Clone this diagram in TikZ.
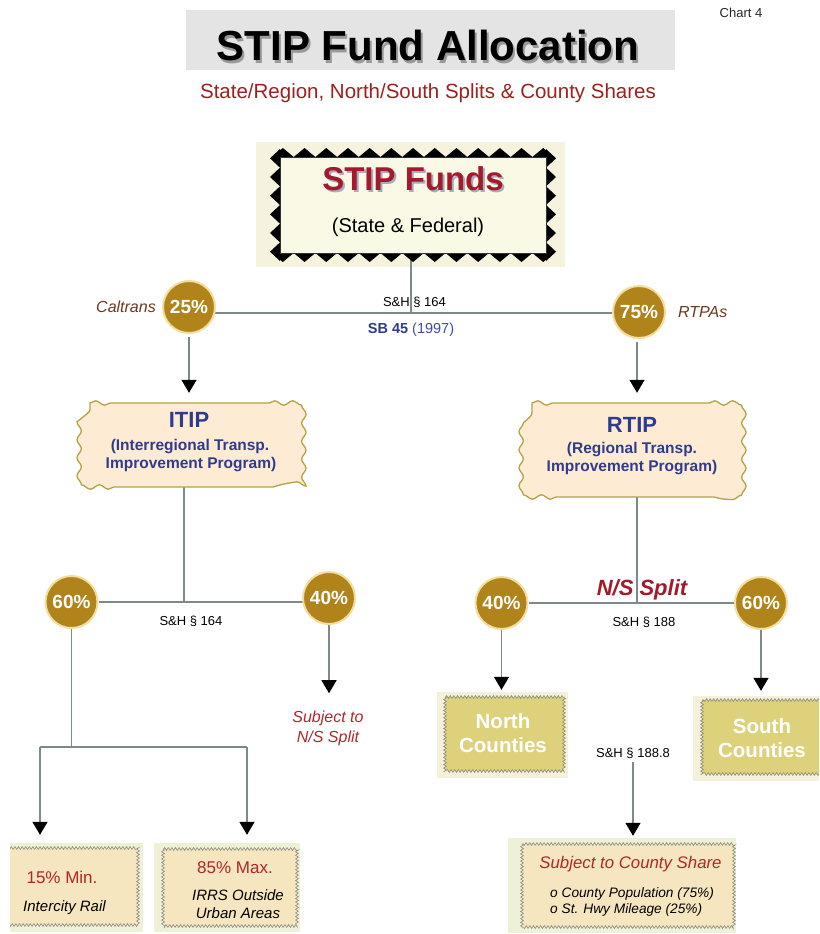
\documentclass[tikz,border=0pt]{standalone}
\usepackage{fontspec}
\setmainfont{Liberation Sans}
\usetikzlibrary{decorations.pathmorphing,arrows.meta}

\definecolor{titlegray}{HTML}{E4E4E4}
\definecolor{subred}{HTML}{9E1F1F}
\definecolor{stipred}{HTML}{A31A2B}
\definecolor{navy}{HTML}{2F3C8E}
\definecolor{navylight}{HTML}{3F4E9E}
\definecolor{brownit}{HTML}{6A3A1E}
\definecolor{gold}{HTML}{B0841A}
\definecolor{goldrim}{HTML}{F2DE9E}
\definecolor{peach}{HTML}{FDEBD4}
\definecolor{olive}{HTML}{B2A446}
\definecolor{khaki}{HTML}{DDD27B}
\definecolor{stipback}{HTML}{F5F3DD}
\definecolor{stipcream}{HTML}{FAF9E6}
\definecolor{paleback}{HTML}{EEF0D8}
\definecolor{northback}{HTML}{F4F0DA}
\definecolor{beige}{HTML}{F6E6BF}
\definecolor{linecol}{HTML}{7E8989}
\definecolor{zzline}{HTML}{8A8A80}
\definecolor{redtxt}{HTML}{B0262A}
\definecolor{shadowblue}{HTML}{A8ACC0}

\newcommand\fsz[2]{\fontsize{#1}{#2}\selectfont}
% text with a soft drop shadow: colour, dx, dy, text
\newcommand\shadowed[4]{\makebox[0pt][l]{\hspace{#2}\raisebox{-#3}{\textcolor{#1}{#4}}}#4}

% scalloped frame: x0 y0 x1 y1
\newcommand\wavyframe[4]{%
  \filldraw[fill=peach, draw=olive, line width=1.3pt,
    decoration={snake, segment length=18pt, amplitude=2.2pt}]
    (#1,#2) decorate{-- (#1+24,#2)} -- (#3-24,#2)
    decorate{-- (#3,#2) -- (#3,#4) -- (#3-24,#4)} -- (#1+24,#4)
    decorate{-- (#1,#4) -- (#1,#2)} -- cycle;}

\pgfdeclarelayer{bg}
\pgfsetlayers{bg,main}

\tikzset{
  pct/.style={circle, fill=gold, draw=goldrim, line width=2pt, minimum size=52pt,
    inner sep=0pt, text=white, font=\bfseries\fsz{19}{22}},
  conn/.style={draw=linecol, line width=1.3pt},
  arr/.style={conn, -{Triangle[width=15pt,length=13pt,color=black]}},
  txt/.style={anchor=base, inner sep=0pt},
  lbl/.style={txt, font=\fsz{13}{15}},
  zz/.style={decorate, decoration={zigzag, segment length=3.6pt, amplitude=1.4pt},
    draw=zzline, line width=0.6pt},
  pane/.style={inner sep=0pt, fill=#1},
}

\begin{document}
\begin{tikzpicture}[x=1pt,y=-1pt]
\useasboundingbox (0,0) rectangle (819,934);

% ---------- heading ----------
\node[pane=titlegray, minimum width=489pt, minimum height=60pt] (titlebox) at (430.5,40) {};
\node[txt, font=\bfseries\fsz{42}{48}] (title) at (428,61)
  {\shadowed{black!40}{2pt}{2pt}{STIP Fund Allocation}};
\node[txt, text=subred, font=\fsz{20.5}{24}] (subtitle) at (428,99) {State/Region, North/South Splits \& County Shares};
\node[txt, text=black!85, font=\fsz{13}{15}] (chart) at (741,18) {Chart 4};

% ---------- STIP Funds ----------
\begin{pgfonlayer}{bg}
  \fill[stipback] (256,142) rectangle (565,267);
\end{pgfonlayer}
\foreach \i in {0,...,12} {
  \fill (272+\i*21.7,157) -- (282.85+\i*21.7,148) -- (293.7+\i*21.7,157) -- cycle;
  \fill (272+\i*21.7,253) -- (282.85+\i*21.7,262) -- (293.7+\i*21.7,253) -- cycle;
}
\foreach \j in {0,...,5} {
  \fill (280,149+\j*18.67) -- (270,158.33+\j*18.67) -- (280,167.67+\j*18.67) -- cycle;
  \fill (546,149+\j*18.67) -- (556,158.33+\j*18.67) -- (546,167.67+\j*18.67) -- cycle;
}
\node[draw=black!80, line width=0.8pt, fill=stipcream, minimum width=266pt,
  minimum height=96pt, inner sep=0pt] (stip) at (413,205) {};
\node[txt, text=stipred, font=\bfseries\fsz{33}{38}] (stiptitle) at (413,190)
  {\shadowed{shadowblue}{2pt}{2pt}{STIP Funds}};
\node[txt, font=\fsz{20}{24}] (stipsub) at (408,232) {(State \& Federal)};

% ---------- first split ----------
\node[pct] (c25) at (189,307) {25\%};
\node[pct] (c75) at (639,312) {75\%};
\node[txt, text=brownit, font=\itshape\fsz{16}{19}, anchor=base east] (caltrans) at (156,312) {Caltrans};
\node[txt, text=brownit, font=\itshape\fsz{16}{19}, anchor=base west] (rtpas) at (678,317) {RTPAs};
\node[lbl] (sh164a) at (414.5,306) {S\&H § 164};
\node[txt, font=\fsz{14.5}{17}] (sb45) at (411,333) {\textcolor{navy}{\bfseries SB 45} \textcolor{navylight}{(1997)}};
\coordinate (jtop) at (411,313);

% ---------- ITIP / RTIP ----------
\wavyframe{90}{403}{293}{487}
\node[inner sep=0pt, minimum width=203pt, minimum height=84pt] (itip) at (191.5,445) {};
\node[txt, text=navy, font=\bfseries\fsz{22}{26}] (itipA) at (189,427) {ITIP};
\node[txt, text=navy, font=\bfseries\fsz{15.5}{18}] (itipB) at (190,450) {(Interregional Transp.};
\node[txt, text=navy, font=\bfseries\fsz{15.5}{18}] (itipC) at (191,468) {Improvement Program)};

\wavyframe{532}{403}{733}{497}
\node[inner sep=0pt, minimum width=201pt, minimum height=94pt] (rtip) at (632.5,450) {};
\node[txt, text=navy, font=\bfseries\fsz{22}{26}] (rtipA) at (632,432) {RTIP};
\node[txt, text=navy, font=\bfseries\fsz{15.5}{18}] (rtipB) at (632,453) {(Regional Transp.};
\node[txt, text=navy, font=\bfseries\fsz{15.5}{18}] (rtipC) at (632,471) {Improvement Program)};

% ---------- ITIP split ----------
\node[pct] (c60a) at (71.5,602) {60\%};
\node[pct] (c40a) at (329,598) {40\%};
\node[lbl] (sh164b) at (191,625) {S\&H § 164};
\coordinate (jl) at (184,602);
\node[txt, text=redtxt, font=\itshape\fsz{16}{19}] (nsA) at (328,722) {Subject to};
\node[txt, text=redtxt, font=\itshape\fsz{16}{19}] (nsB) at (328,742) {N/S Split};
\coordinate (jb) at (71.5,747);
\coordinate (jbl) at (40,747);
\coordinate (jbr) at (247,747);

% intercity rail box
\node[pane=paleback, minimum width=133pt, minimum height=89pt] (bl) at (76.5,887.5) {};
\begin{scope}
  \clip (10,843) rectangle (143,932);
  \filldraw[zz, fill=beige] (2,848) rectangle (138,925);
\end{scope}
\node[txt, text=redtxt, font=\fsz{17}{20}] (blA) at (62,883) {15\% Min.};
\node[txt, font=\itshape\fsz{15}{18}] (blB) at (64.5,911) {Intercity Rail};

% IRRS box
\node[pane=paleback, minimum width=146pt, minimum height=89pt] (bm) at (227,887.5) {};
\filldraw[zz, fill=beige] (163,849) rectangle (297,926);
\node[txt, text=redtxt, font=\fsz{17}{20}] (bmA) at (235,873) {85\% Max.};
\node[txt, font=\itshape\fsz{15}{18}] (bmB) at (238,900) {IRRS Outside};
\node[txt, font=\itshape\fsz{15}{18}] (bmC) at (238,918) {Urban Areas};

% ---------- RTIP split ----------
\node[pct] (c40b) at (501.5,603) {40\%};
\node[pct] (c60b) at (761,603) {60\%};
\coordinate (jr) at (637,603);
\node[txt, text=stipred, font=\bfseries\itshape\fsz{22}{26}] (nssplit) at (642,595) {N/S Split};
\node[lbl] (sh188) at (644,626) {S\&H § 188};

% north counties
\node[pane=northback, minimum width=131pt, minimum height=86pt] (north) at (502.5,735) {};
\filldraw[zz, fill=khaki] (445,697) rectangle (564,771);
\node[txt, text=white, font=\bfseries\fsz{20.5}{24}] (northA) at (503,728) {North};
\node[txt, text=white, font=\bfseries\fsz{20.5}{24}] (northB) at (503,752) {Counties};

% south counties
\node[pane=northback, minimum width=126pt, minimum height=85pt] (south) at (756,738.5) {};
\begin{scope}
  \clip (693,696) rectangle (819,781);
  \filldraw[zz, fill=khaki] (702,700) rectangle (826,774);
\end{scope}
\node[txt, text=white, font=\bfseries\fsz{20.5}{24}] (southA) at (762,733) {South};
\node[txt, text=white, font=\bfseries\fsz{20.5}{24}] (southB) at (762,757) {Counties};

% county share
\node[lbl] (sh1888) at (633,757) {S\&H § 188.8};
\node[pane=paleback, minimum width=228pt, minimum height=95pt] (cshare) at (622,885.5) {};
\filldraw[zz, fill=beige] (522,844) rectangle (734,927);
\node[txt, text=redtxt, font=\itshape\fsz{16.8}{20}] (csA) at (630.5,868) {Subject to County Share};
\node[txt, anchor=base west, font=\itshape\fsz{13.7}{16}] (csB) at (550,897) {o County Population (75\%)};
\node[txt, anchor=base west, font=\itshape\fsz{13.7}{16}] (csC) at (550,913) {o St. Hwy Mileage (25\%)};

% ---------- connectors ----------
\begin{pgfonlayer}{bg}
  \draw[conn] (stip.south -| jtop) -- (jtop);
  \draw[conn] (c25 |- jtop) -- (c75 |- jtop);
  \draw[arr, shorten <=3pt, shorten >=10pt] (c25.south) -- (c25.south |- itip.north);
  \draw[arr, shorten <=3pt, shorten >=10pt] (c75.south -| jr) -- (jr |- rtip.north);

  \draw[conn] (jl |- itip.south) -- (jl);
  \draw[conn] (c60a) -- (c40a |- c60a);
  \draw[arr, shorten >=17pt] (c40a.south) -- (c40a.south |- nsA.north);
  \draw[conn] (c60a) -- (jb);
  \draw[conn] (jbl) -- (jbr);
  \draw[arr, shorten >=8pt] (jbl) -- (jbl |- bl.north);
  \draw[arr, shorten >=8pt] (jbr) -- (jbr |- bm.north);

  \draw[conn] (jr |- rtip.south) -- (jr);
  \draw[conn] (c40b) -- (c60b);
  \draw[arr, shorten >=2pt] (c40b.south) -- (c40b.south |- north.north);
  \draw[arr, shorten >=5pt] (c60b.south) -- (c60b.south |- south.north);
  \draw[arr, shorten <=4pt, shorten >=2pt] (sh1888.south) -- (sh1888.south |- cshare.north);
\end{pgfonlayer}
\end{tikzpicture}
\end{document}
